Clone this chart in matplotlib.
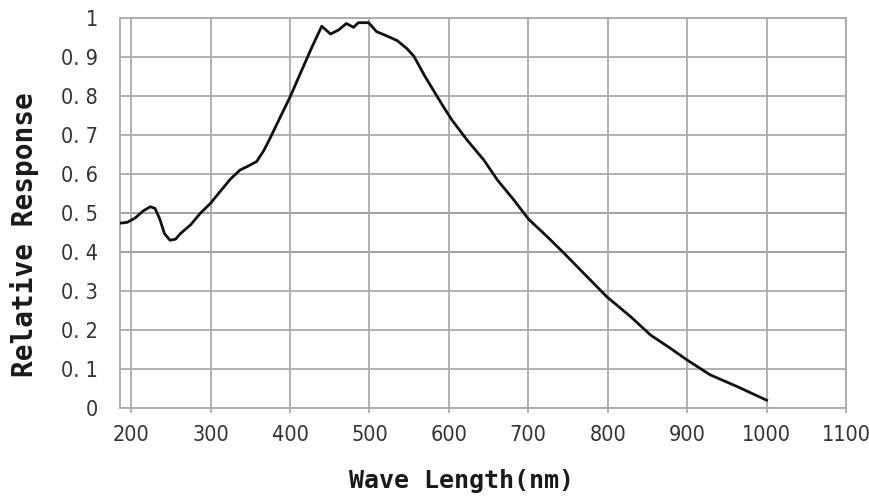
import matplotlib
matplotlib.use("Agg")
import matplotlib.pyplot as plt
from matplotlib import font_manager as fm

# ---- data ----
wavelength = [186, 195, 205, 215, 224, 230, 236, 242, 249, 256, 262, 275, 287, 300, 310,
              325, 337, 347, 358, 367, 375, 388, 400, 415, 428, 440, 451, 461, 471, 480,
              486, 499, 509, 522, 535, 547, 556, 570, 593, 604, 623, 644, 661, 682, 700,
              724, 745, 770, 799, 829, 854, 879, 900, 929, 963, 1000]
response = [0.474, 0.476, 0.487, 0.505, 0.516, 0.512, 0.485, 0.447, 0.430, 0.433, 0.447, 0.47,
            0.499, 0.525, 0.55, 0.587, 0.61, 0.62, 0.632, 0.66, 0.692, 0.747, 0.797, 0.867,
            0.927, 0.979, 0.959, 0.969, 0.986, 0.976, 0.988, 0.988, 0.965, 0.954, 0.942,
            0.922, 0.902, 0.85, 0.773, 0.738, 0.687, 0.636, 0.585, 0.533, 0.485, 0.439,
            0.397, 0.345, 0.285, 0.234, 0.187, 0.153, 0.123, 0.085, 0.055, 0.02]

xticks = [200, 300, 400, 500, 600, 700, 800, 900, 1000, 1100]
xtick_labels = ["200", "300", "400", "500", "600", "700", "800", "900", "1000", "1100"]
yticks = [0, 0.1, 0.2, 0.3, 0.4, 0.5, 0.6, 0.7, 0.8, 0.9, 1.0]
ytick_labels = ["0", "0. 1", "0. 2", "0. 3", "0. 4", "0. 5", "0. 6", "0. 7", "0. 8", "0. 9", "1"]
dark_lines = [0.4, 0.5]

x_label = "Wave Length(nm)"
y_label = "Relative Response"

# pick an upright condensed font for tick labels if available
names = {f.name for f in fm.fontManager.ttflist}
cond = [f for f in fm.fontManager.ttflist
        if f.name == "DejaVu Sans" and f.stretch == "condensed"
        and f.style == "normal" and f.weight in (400, "normal", "regular")]
if "Liberation Sans Narrow" in names:
    tick_fp = fm.FontProperties(family="Liberation Sans Narrow", size=15.5)
elif cond:
    tick_fp = fm.FontProperties(fname=cond[0].fname, size=15.5)
else:
    tick_fp = fm.FontProperties(family="DejaVu Sans", size=13)

label_font = ["DejaVu Sans Mono"]

fig = plt.figure(figsize=(8.69, 5.0), dpi=100)
ax = fig.add_axes([120 / 869, 92 / 500, (846 - 120) / 869, (408 - 18) / 500])

grid_color = "#ababab"
ax.set_xlim(186, 1100)
ax.set_ylim(0, 1)
ax.set_xticks(xticks)
ax.set_yticks(yticks)
ax.grid(True, color=grid_color, linewidth=1.3, zorder=0)
for yv in dark_lines:
    ax.axhline(yv, color="#5a5a5a", linewidth=1.4, zorder=1)

for sp in ax.spines.values():
    sp.set_color(grid_color)
    sp.set_linewidth(1.3)

ax.plot(wavelength, response, color="#111111", linewidth=2.0, solid_joinstyle="round", zorder=3)

ax.set_xticklabels(xtick_labels, fontproperties=tick_fp, color="#333333")
ax.set_yticklabels(ytick_labels, fontproperties=tick_fp, color="#333333")
ax.tick_params(axis="x", direction="out", length=3.5, width=1.3, color=grid_color, pad=9)
ax.tick_params(axis="y", length=0, pad=16)

fig.text(462 / 869, 1 - 481 / 500, x_label, ha="center", va="center",
         family=label_font, fontweight="bold", fontsize=18, color="#1a1a1a")
fig.text(25 / 869, 1 - 235 / 500, y_label, ha="center", va="center", rotation=90,
         family=label_font, fontweight="bold", fontsize=20, color="#1a1a1a")

fig.savefig("out.png", dpi=100)
